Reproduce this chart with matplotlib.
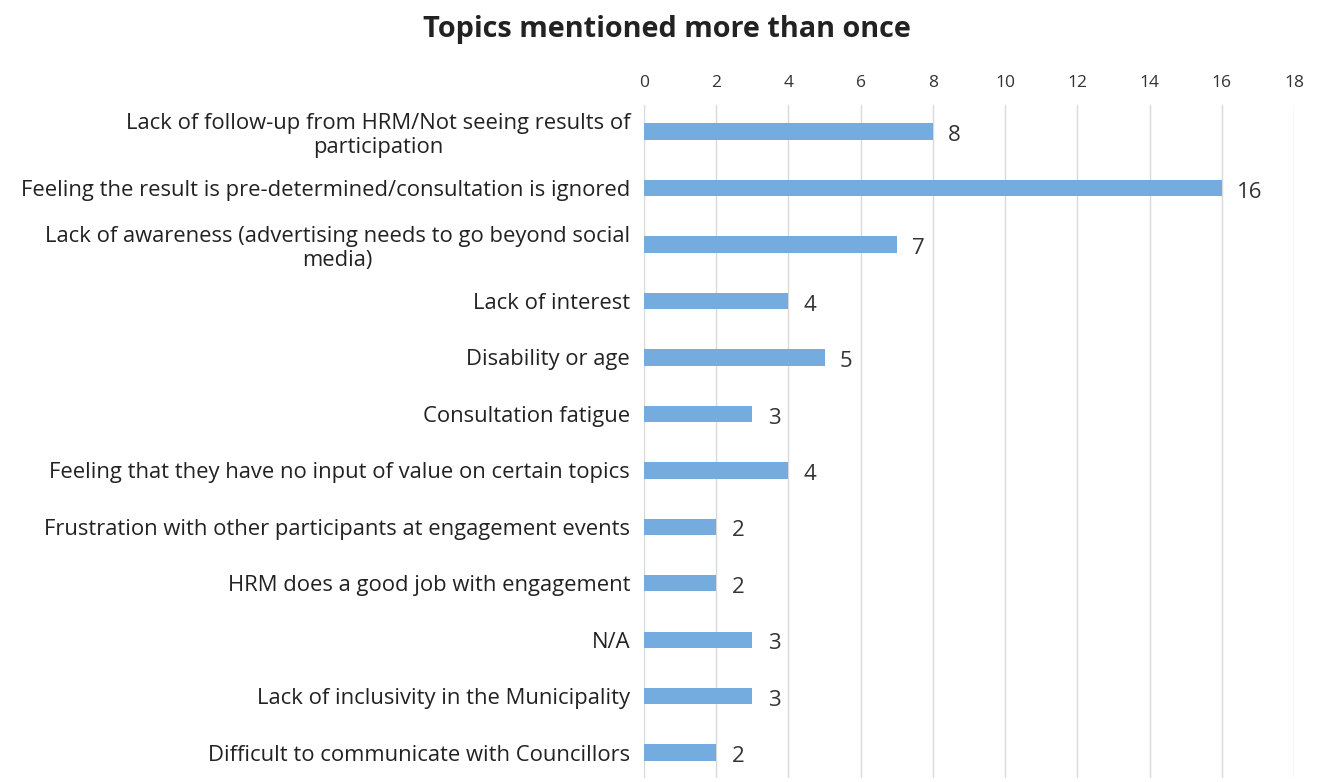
import matplotlib
matplotlib.use("Agg")
import matplotlib.pyplot as plt

categories = [
    "Lack of follow-up from HRM/Not seeing results of\nparticipation",
    "Feeling the result is pre-determined/consultation is ignored",
    "Lack of awareness (advertising needs to go beyond social\nmedia)",
    "Lack of interest",
    "Disability or age",
    "Consultation fatigue",
    "Feeling that they have no input of value on certain topics",
    "Frustration with other participants at engagement events",
    "HRM does a good job with engagement",
    "N/A",
    "Lack of inclusivity in the Municipality",
    "Difficult to communicate with Councillors",
]
values = [8, 16, 7, 4, 5, 3, 4, 2, 2, 3, 3, 2]
xticks = [0, 2, 4, 6, 8, 10, 12, 14, 16, 18]
title = "Topics mentioned more than once"

plt.rcParams['font.family'] = ['Open Sans', 'DejaVu Sans']

fig = plt.figure(figsize=(13.18, 7.82), dpi=100)
ax = fig.add_axes([0.4886, 0.005, 0.9818 - 0.4886, 0.8607])

y = list(range(len(categories)))
ax.barh(y, values, height=0.29, color='#74ACE0', zorder=3)
ax.set_ylim(len(categories) - 0.55, -0.47)
ax.set_xlim(0, 18)
ax.set_xticks(xticks)
ax.xaxis.tick_top()
ax.tick_params(axis='x', length=0, pad=10, labelsize=12.5, labelcolor='#333333')
ax.set_yticks(y)
ax.set_yticklabels(categories)
ax.tick_params(axis='y', length=0, pad=10, labelsize=15.8, labelcolor='#222222')
for lab in ax.get_yticklabels():
    lab.set_multialignment('center')
    lab.set_linespacing(1.2)
ax.grid(axis='x', color='#d9d9d9', linewidth=1, zorder=0)
ax.grid(axis='y', visible=False)
for s in ax.spines.values():
    s.set_visible(False)

for yi, v in zip(y, values):
    ax.annotate(str(v), xy=(v, yi), xytext=(11, -3), textcoords='offset points',
                ha='left', va='center', fontsize=16, color='#333333')

fig.text(0.506, 0.962, title, ha='center', va='center', fontsize=20.8,
         fontweight='bold', color='#222222')

fig.savefig('out.png', dpi=100)
